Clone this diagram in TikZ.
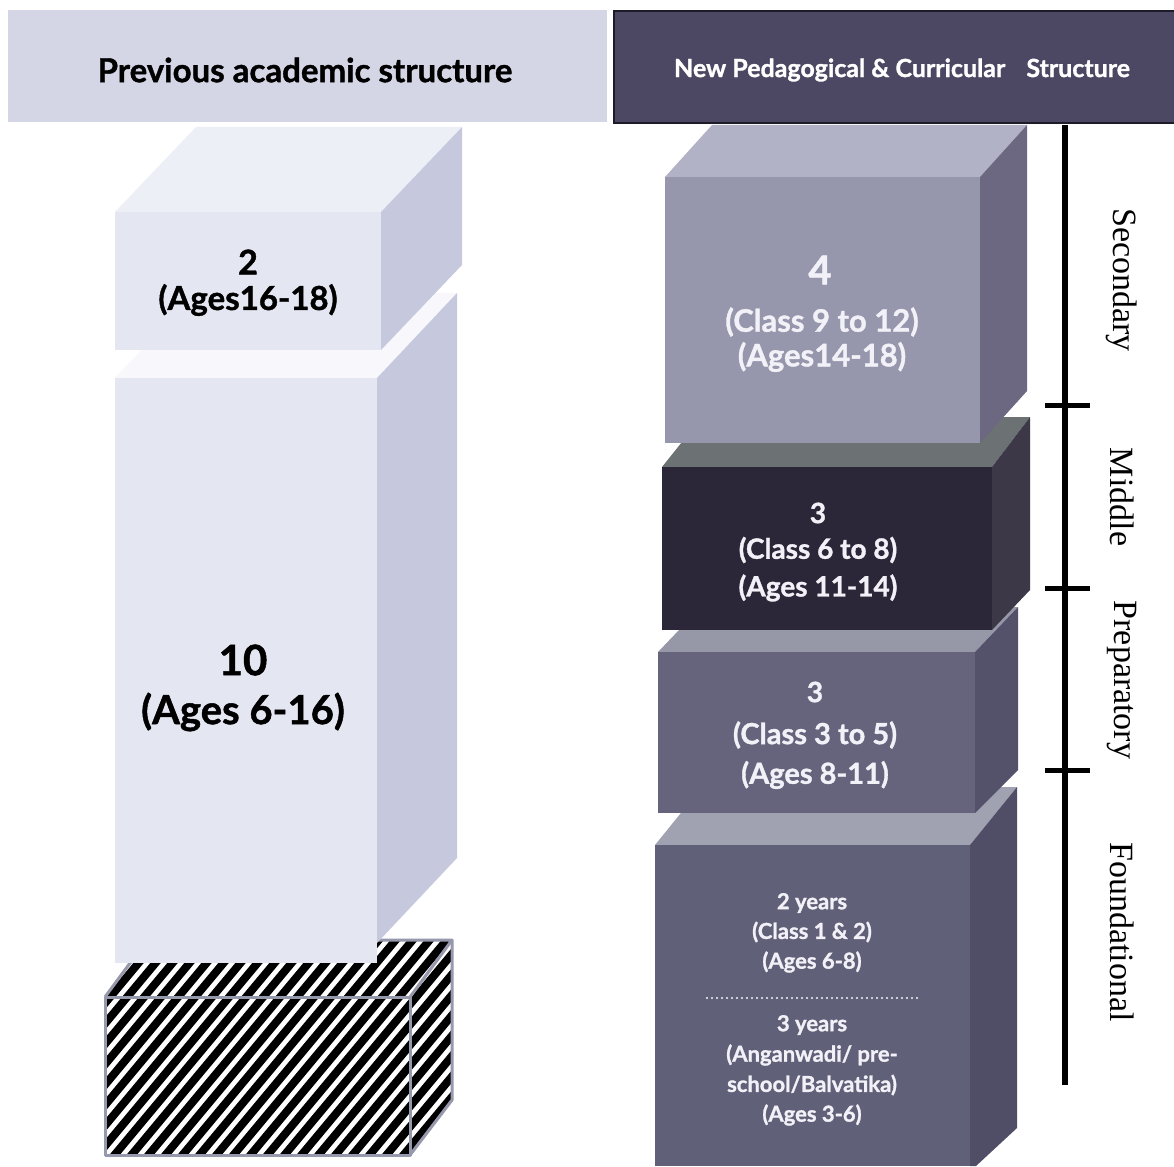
\documentclass[tikz,border=0pt]{standalone}
\usepackage{fontspec}
\setmainfont{Lato}
\newfontfamily\heavy{Lato Bold}[FakeBold=1.2]
\newfontfamily\tms{Liberation Serif}
\definecolor{hdrL}{RGB}{212,214,230}
\definecolor{hdrR}{RGB}{76,71,98}
\definecolor{hdrRb}{RGB}{30,27,40}
\definecolor{paleF}{RGB}{228,231,242}
\definecolor{paleT}{RGB}{237,239,247}
\definecolor{paleT2}{RGB}{248,248,252}
\definecolor{paleS}{RGB}{198,201,221}
\definecolor{hatchE}{RGB}{150,152,172}
\definecolor{secF}{RGB}{150,150,172}
\definecolor{secT}{RGB}{178,178,198}
\definecolor{secS}{RGB}{108,104,130}
\definecolor{midF}{RGB}{44,39,56}
\definecolor{midT}{RGB}{108,114,116}
\definecolor{midS}{RGB}{60,56,72}
\definecolor{preF}{RGB}{102,100,124}
\definecolor{preT}{RGB}{150,152,168}
\definecolor{preS}{RGB}{84,81,106}
\definecolor{fndF}{RGB}{96,96,120}
\definecolor{fndT}{RGB}{160,162,178}
\definecolor{fndS}{RGB}{80,78,102}
\definecolor{txtW}{RGB}{242,241,248}
\begin{document}
\begin{tikzpicture}[x=1pt,y=-1pt,
  hdr/.style={anchor=north west, inner sep=0pt, outer sep=0pt},
  darktxt/.style={text=black, font=\heavy\fontsize{#1}{#1}\selectfont, inner sep=0pt},
  lighttxt/.style={text=txtW, font=\heavy\fontsize{#1}{#1}\selectfont, inner sep=0pt},
  stagelbl/.style={rotate=-90, font=\tms\fontsize{34}{34}\selectfont, inner sep=0pt},
  stripe/.style={black, line width=8pt},
  bar/.style={black, line width=6pt},
  tick/.style={black, line width=5pt}
]
\useasboundingbox (0,0) rectangle (1174,1166);
\fill[white] (0,0) rectangle (1174,1166);

% headers
\node[hdr, fill=hdrL, minimum width=599pt, minimum height=112pt] (hL) at (8,10) {};
\node[darktxt=33] (hLt) at (305,70) {Previous academic structure};
\node[hdr, fill=hdrR, draw=hdrRb, line width=2pt, minimum width=562pt, minimum height=112pt] (hR) at (614,11) {};
\node[text=white, font=\heavy\fontsize{25}{25}\selectfont, inner sep=0pt] (hRt) at (902,70) {New Pedagogical \& Curricular\hspace{0.6em} Structure};

% ---------- left column ----------
% hatched box
\begin{scope}
  \clip (105,997) -- (147,940) -- (452,940) -- (452,1100) -- (410,1155) -- (105,1155) -- cycle;
  \fill[white] (100,930) rectangle (460,1160);
  \foreach \k in {-12,...,30} \draw[stripe] (\k*17,1170) -- ++(400,-480);
\end{scope}
\draw[hatchE, line width=3pt, line join=round] (105,997) -- (410,997) -- (410,1155) -- (105,1155) -- cycle;
\draw[hatchE, line width=3pt, line join=round] (105,997) -- (147,940) -- (452,940) -- (410,997);
\draw[hatchE, line width=3pt, line join=round] (452,940) -- (452,1100) -- (410,1155);

% block 2 (10)
\fill[paleT2] (115,378) -- (377,378) -- (457,293) -- (195,293) -- cycle;
\fill[paleS] (377,378) -- (457,293) -- (457,858) -- (377,943) -- cycle;
\fill[paleF] (115,378) rectangle (377,963);
% block 1 (2)
\fill[paleT] (115,212) -- (381,212) -- (462,127) -- (196,127) -- cycle;
\fill[paleS] (381,212) -- (462,127) -- (462,265) -- (381,350) -- cycle;
\fill[paleF] (115,212) rectangle (381,350);

\node[darktxt=34] (l1a) at (248,262) {2};
\node[darktxt=33] (l1b) at (248,300) {(Ages16-18)};
\node[darktxt=42] (l2a) at (243,660) {10};
\node[darktxt=40] (l2b) at (243,712) {(Ages 6-16)};

% ---------- right column ----------
% foundational
\fill[fndT] (655,845) -- (970,845) -- (1017,787) -- (702,787) -- cycle;
\fill[fndS] (970,845) -- (1017,787) -- (1017,1128) -- (976,1166) -- (970,1166) -- cycle;
\fill[fndF] (655,845) rectangle (970,1166);
% preparatory
\fill[preT] (658,652) -- (975,652) -- (1018,607) -- (701,607) -- cycle;
\fill[preS] (975,652) -- (1018,607) -- (1018,770) -- (975,813) -- cycle;
\fill[preF] (658,652) rectangle (975,813);
% middle
\fill[midT] (662,467) -- (992,467) -- (1030,417) -- (702,417) -- cycle;
\fill[midS] (992,467) -- (1030,417) -- (1030,590) -- (992,630) -- cycle;
\fill[midF] (662,467) rectangle (992,630);
% secondary
\fill[secT] (665,177) -- (980,177) -- (1027,125) -- (712,125) -- cycle;
\fill[secS] (980,177) -- (1027,125) -- (1027,391) -- (980,443) -- cycle;
\fill[secF] (665,177) rectangle (980,443);

\node[lighttxt=40] (s1) at (820,270) {4};
\node[lighttxt=31] (s2) at (822,322) {(Class 9 to 12)};
\node[lighttxt=31] (s3) at (822,357) {(Ages14-18)};

\node[lighttxt=28] (m1) at (818,513) {3};
\node[lighttxt=28] (m2) at (818,550) {(Class 6 to 8)};
\node[lighttxt=28] (m3) at (818,588) {(Ages 11-14)};

\node[lighttxt=28] (p1) at (815,692) {3};
\node[lighttxt=29] (p2) at (815,735) {(Class 3 to 5)};
\node[lighttxt=29] (p3) at (815,775) {(Ages 8-11)};

\node[lighttxt=22] (f1) at (812,903) {2 years};
\node[lighttxt=22] (f2) at (812,932) {(Class 1 \& 2)};
\node[lighttxt=22] (f3) at (812,962) {(Ages 6-8)};
\coordinate (dotL) at (707,998);
\coordinate (dotR) at (917,998);
\draw[txtW, line width=2.4pt, line cap=round, dash pattern=on 0pt off 5pt] (dotL) -- (dotR);
\node[lighttxt=22] (f4) at (812,1025) {3 years};
\node[lighttxt=22] (f5) at (812,1055) {(Anganwadi/ pre-};
\node[lighttxt=22] (f6) at (812,1085) {school/Balvatika)};
\node[lighttxt=22] (f7) at (812,1115) {(Ages 3-6)};

% stage bar
\coordinate (vtop) at (1065,125);
\coordinate (vbot) at (1065,1085);
\draw[bar] (vtop) -- (vbot);
\coordinate (t1L) at (1045,405); \coordinate (t1R) at (1090,405);
\coordinate (t2L) at (1045,588); \coordinate (t2R) at (1090,588);
\coordinate (t3L) at (1045,770); \coordinate (t3R) at (1090,770);
\draw[tick] (t1L) -- (t1R);
\draw[tick] (t2L) -- (t2R);
\draw[tick] (t3L) -- (t3R);

\node[stagelbl] (lsec) at (1122,280) {Secondary};
\node[stagelbl] (lmid) at (1122,497) {Middle};
\node[stagelbl] (lpre) at (1122,680) {Preparatory};
\node[stagelbl] (lfnd) at (1122,932) {Foundational};
\end{tikzpicture}
\end{document}
